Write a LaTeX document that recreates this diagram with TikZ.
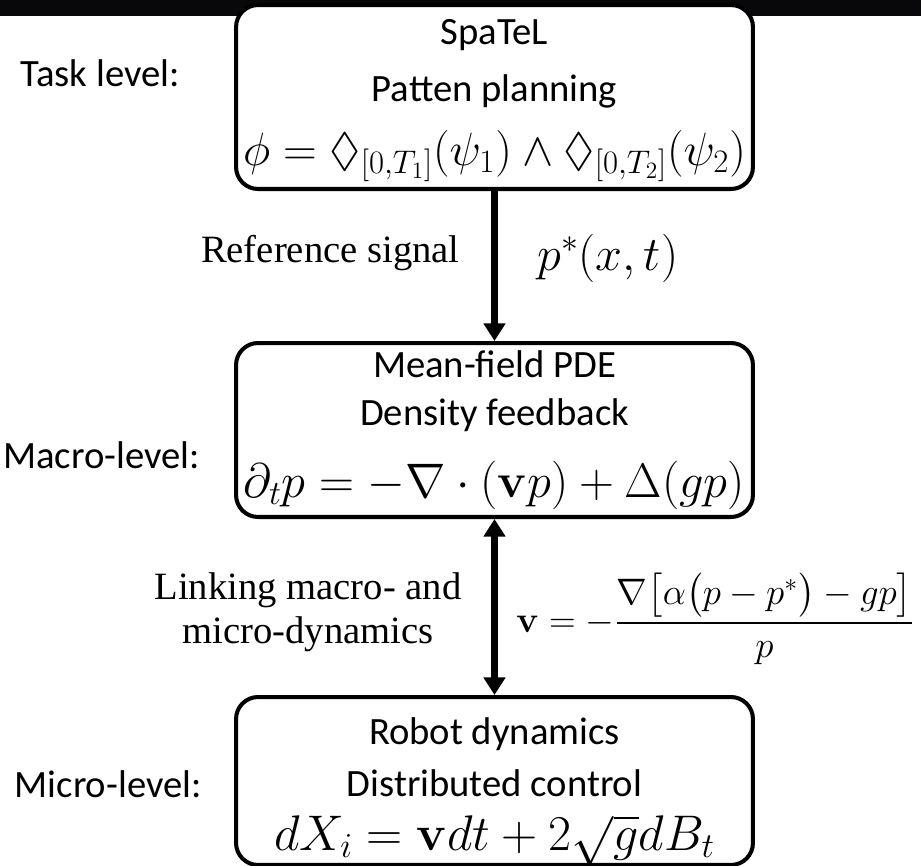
\RequirePackage{fix-cm}
\documentclass[tikz,border=0pt]{standalone}
\usepackage{amsmath,amssymb}
\usepackage[no-math]{fontspec}
\setmainfont{Liberation Serif}
\setsansfont{Carlito}
\usetikzlibrary{arrows.meta}
\definecolor{bannerdark}{RGB}{8,8,10}

\begin{document}
\begin{tikzpicture}[x=0.02cm, y=-0.02cm,
    levelbox/.style={rectangle, draw=black, line width=2.3pt, rounded corners=0.44cm, fill=white,
                     minimum width=10.34cm, inner sep=0pt},
    boxtext/.style={font=\sffamily\fontsize{22}{26}\selectfont, anchor=base, inner sep=0pt},
    lvl/.style={font=\sffamily\fontsize{22}{26}\selectfont, anchor=base east, inner sep=0pt},
    note/.style={font=\fontsize{22}{25}\selectfont, inner sep=0pt},
    flow/.style={line width=3.6pt, -{Triangle[length=10pt,width=12pt]}},
    flowboth/.style={line width=3.6pt, {Triangle[length=10pt,width=12pt]}-{Triangle[length=10pt,width=12pt]}}]
\useasboundingbox (0,0) rectangle (921,866);
% dark strip along the top edge
\fill[bannerdark] (0,0) rectangle (921,16);
% the three level boxes
\node[levelbox, minimum height=3.68cm] (task)  at (494.5,97) {};
\node[levelbox, minimum height=3.48cm] (macro) at (494.5,430) {};
\node[levelbox, minimum height=3.36cm] (micro) at (494.5,781) {};
% task level
\node[boxtext] (tasktitle) at (494.5,44) {SpaTeL};
\node[boxtext] (tasksub)   at (494.5,101) {Patten planning};
\node[anchor=base, inner sep=0pt, font=\fontsize{26.6}{30}\selectfont] (taskeq) at (494.5,165)
    {$\phi=\Diamond_{[0,T_1]}(\psi_1)\wedge\Diamond_{[0,T_2]}(\psi_2)$};
% macro level
\node[boxtext] (macrotitle) at (494.5,377) {Mean-field PDE};
\node[boxtext] (macrosub)   at (494.5,425) {Density feedback};
\node[anchor=base, inner sep=0pt, font=\fontsize{27.6}{31}\selectfont] (macroeq) at (494.5,497)
    {$\partial_t p=-\nabla\cdot(\mathbf{v}p)+\Delta(gp)$};
% micro level
\node[boxtext] (microtitle) at (494.5,744) {Robot dynamics};
\node[boxtext] (microsub)   at (494.5,796) {Distributed control};
\node[anchor=base, inner sep=0pt, font=\fontsize{28.5}{32}\selectfont] (microeq) at (494.5,850)
    {$dX_i=\mathbf{v}dt+2\sqrt{g}dB_t$};
% level names on the left
\node[lvl] (tasklbl)  at (180,86) {Task level:};
\node[lvl] (macrolbl) at (200,468) {Macro-level:};
\node[lvl] (microlbl) at (202,797) {Micro-level:};
% connectors
\draw[flow] (task.south) -- (macro.north);
\draw[flowboth] (macro.south) -- (micro.north);
% reference signal
\node[note, anchor=base east] (refsig) at (460,262) {Reference signal};
\node[anchor=base west, inner sep=0pt, font=\fontsize{27.5}{31}\selectfont] (refeq) at (537,270) {$p^*(x,t)$};
% linking macro and micro
\node[note, align=center] (linklbl) at (308,612) {Linking macro- and\\micro-dynamics};
\node[anchor=base west, inner sep=0pt, font=\fontsize{21}{25}\selectfont] (veleq) at (516,632)
    {$\displaystyle\mathbf{v}=-\frac{\nabla\bigl[\alpha\bigl(p-p^*\bigr)-gp\bigr]}{p}$};
\end{tikzpicture}
\end{document}
